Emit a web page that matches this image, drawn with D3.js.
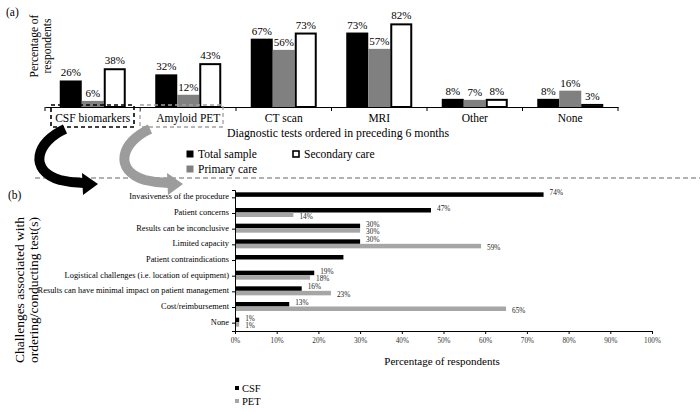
<!DOCTYPE html>
<html><head><meta charset="utf-8">
<script src="https://cdn.jsdelivr.net/npm/d3@7"></script>
<style>
body{margin:0;background:#fff;}
svg text{font-family:"Liberation Serif","Times New Roman","DejaVu Serif",Times,serif;}
</style></head>
<body><svg id="c" width="700" height="412" font-family="Liberation Serif, Times New Roman, DejaVu Serif, serif"></svg>
<script>
// ---- data (a) ----
const testCategories = ["CSF biomarkers","Amyloid PET","CT scan","MRI","Other","None"];
const totalSample   = [26,32,67,73,8,8];
const primaryCare   = [6,12,56,57,7,16];
const secondaryCare = [38,43,73,82,8,3];
const seriesA = ["Total sample","Primary care","Secondary care"];
// ---- data (b) ----
const challenges = ["Invasiveness of the procedure","Patient concerns","Results can be inconclusive","Limited capacity","Patient contraindications","Logistical challenges (i.e. location of equipment)","Results can have minimal impact on patient management","Cost/reimbursement","None"];
const csfValues = [74,47,30,30,26,19,16,13,1];
const petValues = [null,14,30,59,null,18,23,65,1];
const csfLabelShown = [true,true,true,true,false,true,true,true,true];
const xTicksB = [0,10,20,30,40,50,60,70,80,90,100];
const seriesB = ["CSF","PET"];

const svg = d3.select("#c");
const fmt = d => d + "%";

// ===== Panel (a) =====
const ax0 = 45, ax1 = 618, base = 107;
const xA = d3.scaleBand().domain(testCategories).range([ax0, ax1]).paddingInner(0).paddingOuter(0);
const xSub = d3.scaleBand().domain(seriesA).range([0, 66]);
const yA = d3.scaleLinear().domain([0,100]).range([base, base-102]);
const fillA = {"Total sample":"#000","Primary care":"#808080","Secondary care":"#fff"};
const valsA = {"Total sample":totalSample,"Primary care":primaryCare,"Secondary care":secondaryCare};

const gA = svg.append("g");
testCategories.forEach((cat,i)=>{
  const gx = xA(cat) + (xA.bandwidth()-66)/2;
  seriesA.forEach(s=>{
    const v = valsA[s][i];
    const isSec = s==="Secondary care";
    gA.append("rect")
      .attr("x", gx + xSub(s) + (isSec?1:0))
      .attr("y", yA(v) + (isSec?1:0))
      .attr("width", xSub.bandwidth() - (isSec?2:0))
      .attr("height", base - yA(v) - (isSec?1:0))
      .attr("fill", fillA[s])
      .attr("stroke", isSec?"#000":"none")
      .attr("stroke-width", isSec?2:0);
    gA.append("text")
      .attr("x", gx + xSub(s) + xSub.bandwidth()/2)
      .attr("y", yA(v) - 4)
      .attr("text-anchor","middle")
      .attr("font-size", 11)
      .text(fmt(v));
  });
});
// axis line and ticks
const axA = d3.axisBottom(xA).tickSize(0).tickFormat("");
const axG = gA.append("g").attr("transform",`translate(0,${base})`).call(axA);
axG.select(".domain").attr("stroke","#000").attr("stroke-width",1);
const bounds = testCategories.map(c=>xA(c)).concat([ax1]);
bounds.forEach(b=>{
  gA.append("line").attr("x1",b).attr("x2",b).attr("y1",base).attr("y2",base+4).attr("stroke","#000");
});
testCategories.forEach(c=>{
  gA.append("text").attr("x", xA(c)+xA.bandwidth()/2).attr("y", 122)
    .attr("text-anchor","middle").attr("font-size",11.5).text(c);
});
gA.append("text").attr("x",338).attr("y",137).attr("text-anchor","middle").attr("font-size",11.8)
  .text("Diagnostic tests ordered in preceding 6 months");
// dashed boxes
gA.append("rect").attr("x",51).attr("y",105).attr("width",83).attr("height",22)
  .attr("fill","none").attr("stroke","#000").attr("stroke-width",1.6).attr("stroke-dasharray","4,3");
gA.append("rect").attr("x",140).attr("y",105).attr("width",83).attr("height",22)
  .attr("fill","none").attr("stroke","#a0a0a0").attr("stroke-width",1.3).attr("stroke-dasharray","4,3");
// y title
const yt = gA.append("text").attr("transform","translate(38,46) rotate(-90)").attr("text-anchor","middle").attr("font-size",11.5);
yt.append("tspan").attr("x",0).attr("dy",0).text("Percentage of");
yt.append("tspan").attr("x",0).attr("dy",13).text("respondents");
svg.append("text").attr("x",6).attr("y",16).attr("font-size",11.5).text("(a)");
// legend (a)
const legA = [{s:"Total sample",x:190,y:154},{s:"Secondary care",x:296,y:154},{s:"Primary care",x:190,y:169}];
legA.forEach(l=>{
  const sec = l.s==="Secondary care";
  svg.append("rect").attr("x",l.x-3.5+(sec?0.5:0)).attr("y",l.y-3.5+(sec?0.5:0))
    .attr("width",sec?6:7).attr("height",sec?6:7)
    .attr("fill",fillA[l.s]).attr("stroke",sec?"#000":"none").attr("stroke-width",sec?1.6:0);
  svg.append("text").attr("x",l.x+8).attr("y",l.y+4).attr("font-size",11.5).text(l.s);
});
// separator
svg.append("line").attr("x1",35).attr("x2",700).attr("y1",178).attr("y2",178)
  .attr("stroke","#9a9a9a").attr("stroke-width",1.3).attr("stroke-dasharray","5,3");

// arrows
function arrow(dx, color){
  const g = svg.append("g").attr("transform",`translate(${dx},0)`);
  g.append("path").attr("d","M65,129 C36,142 28,170 60,180 C68,182 76,183 84,183")
    .attr("fill","none").attr("stroke",color).attr("stroke-width",10);
  g.append("path").attr("d","M82,173 L98,184 L83,195 Z").attr("fill",color);
}
arrow(0,"#000");
arrow(85,"#9c9c9c");

// ===== Panel (b) =====
const bx0 = 235, bx1 = 652, bTop = 190, bBot = 331;
const xB = d3.scaleLinear().domain([0,100]).range([bx0,bx1]);
const yB = d3.scaleBand().domain(challenges).range([bTop,bBot]);
const bh = 4.5;
const gB = svg.append("g");
challenges.forEach((c,i)=>{
  const cy = yB(c) + yB.bandwidth()/2 - 1;
  const cv = csfValues[i], pv = petValues[i];
  if(cv!=null){
    gB.append("rect").attr("x",bx0).attr("y",cy-bh).attr("width",xB(cv)-bx0).attr("height",bh).attr("fill","#000");
    if(csfLabelShown[i]) gB.append("text").attr("x",xB(cv)+6).attr("y",cy-1.5).attr("font-size",7.3).attr("fill","#222").text(fmt(cv));
  }
  if(pv!=null){
    gB.append("rect").attr("x",bx0).attr("y",cy).attr("width",xB(pv)-bx0).attr("height",bh).attr("fill","#a6a6a6");
    gB.append("text").attr("x",xB(pv)+6).attr("y",cy+6).attr("font-size",7.3).attr("fill","#222").text(fmt(pv));
  }
  gB.append("text").attr("x",229).attr("y",cy+2.5).attr("text-anchor","end").attr("font-size",8.4).text(c);
});
const axB = d3.axisBottom(xB).tickValues(xTicksB).tickSize(3).tickFormat(d=>d+"%");
const axBG = gB.append("g").attr("transform",`translate(0,${bBot})`).call(axB);
axBG.attr("font-family",null);
axBG.selectAll("text").attr("font-size",7.2).attr("fill","#333").attr("dy","0.9em");
axBG.select(".domain").attr("stroke","#000");
const yAxB = d3.axisLeft(yB).tickSize(3).tickFormat("");
const yAxG = gB.append("g").attr("transform",`translate(${bx0},0)`).call(yAxB);
yAxG.select(".domain").attr("stroke","#000");
gB.append("text").attr("x",442).attr("y",365).attr("text-anchor","middle").attr("font-size",11).text("Percentage of respondents");
const yt2 = gB.append("text").attr("transform","translate(24,290) rotate(-90)").attr("text-anchor","middle").attr("font-size",13.5);
yt2.append("tspan").attr("x",0).attr("dy",0).text("Challenges associated with");
yt2.append("tspan").attr("x",0).attr("dy",14).text("ordering/conducting test(s)");
svg.append("text").attr("x",8).attr("y",199).attr("font-size",11.5).text("(b)");
// legend (b)
const legB = [{s:"CSF",c:"#000",y:388},{s:"PET",c:"#a6a6a6",y:401}];
legB.forEach(l=>{
  svg.append("rect").attr("x",235).attr("y",l.y-2).attr("width",4).attr("height",4).attr("fill",l.c);
  svg.append("text").attr("x",242).attr("y",l.y+3.5).attr("font-size",10.5).text(l.s);
});
</script></body></html>
